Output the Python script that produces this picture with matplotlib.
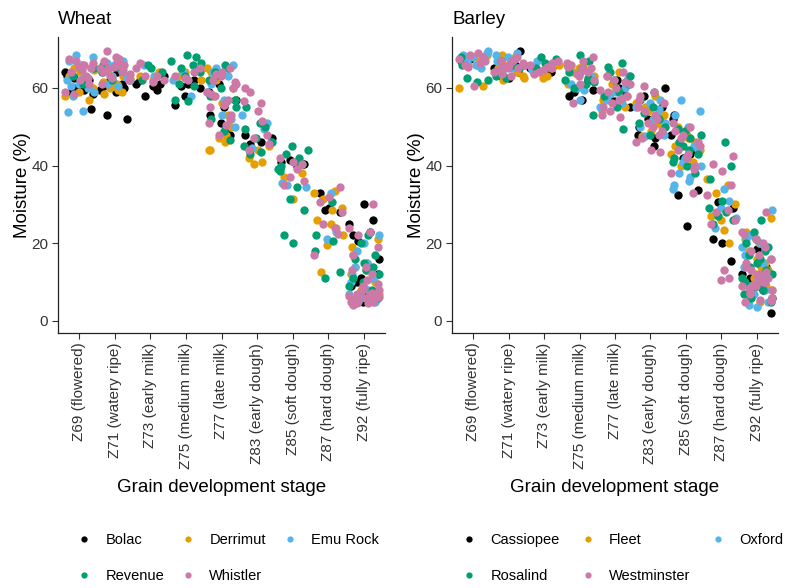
import numpy as np
import matplotlib
matplotlib.use("Agg")
import matplotlib.pyplot as plt
from matplotlib.lines import Line2D

plt.rcParams['font.family'] = ['Liberation Sans', 'DejaVu Sans']

# Data (moisture %, one sublist per stage)
stages = ["Z69 (flowered)", "Z71 (watery ripe)", "Z73 (early milk)", "Z75 (medium milk)",
          "Z77 (late milk)", "Z83 (early dough)", "Z85 (soft dough)", "Z87 (hard dough)",
          "Z92 (fully ripe)"]

wheat_names = ["Bolac", "Derrimut", "Emu Rock", "Revenue", "Whistler"]
barley_names = ["Cassiopee", "Fleet", "Oxford", "Rosalind", "Westminster"]
colours = ["#000000", "#E69F00", "#56B4E9", "#009E73", "#CC79A7"]

wheat_bolac = [[63, 59.5, 60, 54.5, 59, 61, 62, 64, 60.5, 62.5, 58.5],
               [52, 53, 59, 60, 59.5, 61, 62, 63, 60.5, 64],
               [61, 61, 59.5, 58, 63, 62, 60.5], [60.5, 60, 55.5, 61, 62, 58],
               [55, 48, 51, 57, 62, 49, 53, 59, 56.5, 61], [47, 45.5, 46, 48],
               [41, 39.5, 40, 41.5, 40.5], [28.5, 28, 33, 29],
               [30, 26, 25, 23, 20.5, 12, 22, 8, 6, 5, 16, 10, 7, 5.5, 9, 6.5, 11]]
wheat_derrimut = [[64, 57, 58, 62, 65, 60, 63, 66, 61, 59, 64.5],
                  [59, 60, 62, 58.5, 61, 63, 60.5, 62.5, 64, 59.5, 61.5],
                  [63, 62, 64], [64, 62, 63],
                  [46, 44, 44, 48, 47, 60, 58, 56, 50, 65, 53, 62, 57, 64, 55.5],
                  [41, 40.5, 45, 42, 44], [37, 31.5, 38],
                  [33, 33.5, 31.5, 29, 26, 25, 24, 19.5, 22, 12.5, 28.5],
                  [21, 17, 13, 11, 9, 7, 5, 15, 19, 12, 6, 8, 10, 14]]
wheat_emurock = [[68, 67, 66, 60, 61, 59, 58, 54, 53.7, 62, 63, 68.5, 65, 60.5],
                 [67, 66, 62, 61, 60.5, 65, 64, 67.5, 63, 62.5, 66.5],
                 [66, 63], [62, 58, 64], [66, 64, 53, 52, 59, 63, 65, 50, 61, 57],
                 [51, 53, 49.5, 44.5, 46], [35, 34.5, 35.5], [33, 23, 21],
                 [22, 18, 15, 12, 10, 8, 6, 5, 14, 20, 11, 7, 13]]
wheat_revenue = [[65, 63, 61], [66, 64, 65, 62], [66, 64, 62, 65],
                 [68.5, 68, 67, 66, 65, 64, 57, 56.5, 60.5, 63, 66.5, 61],
                 [65, 63, 57, 52, 49, 46.5, 60, 55, 64, 66, 58, 62],
                 [55, 51, 50, 47, 46, 43, 43.5, 49.5, 45],
                 [45, 44, 43, 41, 40, 38.5, 34.5, 31.5, 28.5, 22, 20, 40.5, 39, 42],
                 [30.5, 22, 18, 20.5, 11, 12.5],
                 [22, 20, 17, 16, 15, 14, 9, 7, 5, 6, 11, 13, 8, 10, 12, 5.5]]
wheat_whistler = [[66, 67, 65, 64, 62, 61, 59, 63, 58.5, 66.5, 67.5, 64.5, 62.5, 65.5],
                  [69.5, 68, 66, 65, 64, 63, 62, 67, 66.5, 64.5, 65.5, 63.5, 65, 66, 64, 61,
                   67.5, 62.5],
                  [65, 63, 63, 62, 66.5, 61.5], [65, 63, 62, 64, 62.5],
                  [65, 63, 61, 58, 56, 55, 51, 50.5, 48, 60, 62, 64, 53, 59, 57, 63.5, 61.5,
                   58.5, 55.5, 52],
                  [59, 56, 60, 56.5, 51.5, 47, 45.5, 44, 54, 48],
                  [42, 39, 37, 36, 35, 41, 40.5],
                  [34.5, 30.5, 32, 22.5, 17, 24, 25, 28],
                  [30, 24, 23, 22, 19, 17, 14, 12, 9, 8, 7, 6, 5, 5, 4.5, 7.5, 6, 5.5, 8.5,
                   4.8, 6.5, 7, 5.2, 9.5, 4.2, 5.8, 7.2, 8.2, 6.2, 4.6, 10.5, 13]]

barley_cassiopee = [[67, 66, 67.5, 68], [69.5, 63, 62.5, 64, 65, 66], [66, 65, 64],
                    [59, 59.5, 58, 57, 62, 64], [62, 59, 56.5, 55, 58, 60],
                    [60, 58, 45, 50, 48, 47, 52, 55],
                    [53, 52, 43, 42, 33.8, 32.5, 24.5, 44, 48], [30.5, 29, 21, 20, 15.5],
                    [18.5, 14, 12, 8, 7.5, 2, 17, 10, 13, 9, 6, 11, 15]]
barley_fleet = [[68, 60.5, 60, 67, 66, 68.5], [68, 62, 63, 65, 67, 64, 66, 62.5, 68.5],
                [64, 63, 65, 62.5, 66, 64.5], [65, 63, 64, 66, 61],
                [64, 57, 54, 56, 61, 58, 63, 59.5, 55],
                [58, 54, 50, 47.5, 49, 52, 56, 51, 55, 53],
                [50, 48, 46, 43, 41, 40, 44, 45, 47], [36.5, 35, 33, 30, 27, 23.5, 20, 26],
                [26.5, 23, 20, 15, 12, 8, 6, 5, 21, 10, 14, 11, 13, 18, 16, 9]]
barley_oxford = [[69, 68.5, 66, 65, 68, 69.5, 67], [69, 68, 66, 64, 65, 67, 68.5],
                 [67, 66, 64.5, 65.5], [66, 59.5, 60, 63, 61, 57],
                 [62, 57, 59, 60, 55, 56, 58.5, 63],
                 [57, 55, 53, 47.5, 48, 50, 52, 54.5, 56, 51],
                 [57, 54, 53, 50, 45, 42, 40, 38, 36, 35, 34, 37, 41, 44],
                 [34, 31, 29, 26.5, 24],
                 [28.5, 22, 20, 17, 14, 10, 7, 5, 4, 3.5, 12, 19, 15, 9, 16, 21, 11, 8]]
barley_rosalind = [[62, 62.5, 61.5, 66, 68], [64, 63, 66, 62.5, 65.5, 67], [68, 67.5, 65, 66.5],
                   [68.5, 67, 62, 61, 60, 53, 64, 65, 62.5, 63.5, 61.5],
                   [66.5, 64, 61, 58, 55, 49.5, 62, 63, 65.5, 59],
                   [57, 55, 52, 48, 50, 53.5, 59, 51],
                   [49, 48, 46, 44, 42, 41, 47, 45, 43, 49.5, 40, 38],
                   [46, 36.5, 29, 28, 27, 26, 25, 31, 40],
                   [26, 23, 19, 17, 15, 13, 11, 8, 6, 5, 20, 9, 18, 21, 12, 14, 16, 10, 7]]
barley_westminster = [[69, 68.5, 67, 66, 60.5, 68, 67.5, 66.5, 65.5],
                      [67, 66, 65, 64, 67.5, 65.5, 66.5, 64.5, 63, 68, 65, 66, 63.5, 67],
                      [66, 65, 64, 67, 63.5, 65.5, 66.5, 64.5],
                      [68, 66, 65, 64, 63, 62, 56, 67, 65.5, 66.5, 64.5, 63.5, 65, 66, 61],
                      [64, 62, 61, 59, 57, 55, 53, 52.5, 56, 58, 63, 60, 61.5, 59.5, 57.5, 54],
                      [60.5, 59, 57, 55, 53, 51, 49, 47, 44, 43.5, 46, 52, 54, 56, 58, 50, 48],
                      [51, 50, 48, 46, 44, 42, 40, 38, 33, 47, 45, 49, 43, 39],
                      [42.5, 40.5, 38.5, 35, 32.5, 28.5, 28, 26, 25, 13, 11, 10.5],
                      [28, 23, 20, 18, 16, 14, 12, 10, 9, 8, 7, 5.5, 5, 22.5, 10.5, 9.5, 11,
                       8.5, 11.5, 12.5, 9, 10, 13, 5.2, 15, 17, 19, 21, 6, 7.5]]

wheat_series = [wheat_bolac, wheat_derrimut, wheat_emurock, wheat_revenue, wheat_whistler]
barley_series = [barley_cassiopee, barley_fleet, barley_oxford, barley_rosalind, barley_westminster]

# fixed horizontal spread pattern (stands in for jitter)
spread = [-0.36, 0.13, -0.08, 0.33, -0.23, 0.02, 0.27, -0.41, 0.19,
          -0.15, 0.39, -0.30, 0.07, 0.23, -0.02, 0.42, -0.19, 0.10, -0.33]


def draw_panel(ax, title, names, series):
    for v, (vals, col) in enumerate(zip(series, colours)):
        for s, ys in enumerate(vals):
            xs = [s + 1 + spread[(i + v * 5 + s * 3) % len(spread)] for i in range(len(ys))]
            ax.scatter(xs, ys, s=36, color=col, linewidths=0, zorder=3)
    ax.set_xlim(0.4, 9.6)
    ax.set_ylim(-3.1, 73.1)
    ax.set_yticks([0, 20, 40, 60])
    ax.set_xticks(range(1, 10))
    ax.set_xticklabels(stages, rotation=90, fontsize=11, color="#333333")
    ax.tick_params(axis="y", labelsize=11, labelcolor="#333333")
    ax.tick_params(length=4, width=0.8, color="#333333", pad=3)
    for side in ["top", "right"]:
        ax.spines[side].set_visible(False)
    for side in ["left", "bottom"]:
        ax.spines[side].set_linewidth(0.9)
        ax.spines[side].set_color("#222222")
    ax.set_title(title, loc="left", fontsize=13.5, pad=9)
    ax.set_ylabel("Moisture (%)", fontsize=13.5, labelpad=0.5)
    ax.set_xlabel("Grain development stage", fontsize=13.5, labelpad=7)

    # legend filled row by row (matplotlib fills columns, so reorder)
    order = [0, 3, 1, 4, 2]
    handles = [Line2D([], [], marker="o", linestyle="none", markersize=4.5,
                      markerfacecolor=colours[k], markeredgewidth=0) for k in order]
    labels = [names[k] for k in order]
    return handles, labels


fig = plt.figure(figsize=(7.85, 5.88), dpi=100)
ax1 = fig.add_axes([58 / 785, 1 - 333 / 588, 327 / 785, 296 / 588])
ax2 = fig.add_axes([452 / 785, 1 - 333 / 588, 326 / 785, 296 / 588])

h1, l1 = draw_panel(ax1, "Wheat", wheat_names, wheat_series)
h2, l2 = draw_panel(ax2, "Barley", barley_names, barley_series)

for ax, h, l, x0, cs in [(ax1, h1, l1, 77, 1.15), (ax2, h2, l2, 462, 1.42)]:
    ax.legend(h, l, ncol=3, loc="upper left", bbox_to_anchor=(x0 / 785, 1 - 533 / 588),
              bbox_transform=fig.transFigure, frameon=False, fontsize=10.5,
              handlelength=1.0, handletextpad=0.95, columnspacing=cs,
              labelspacing=1.5, borderpad=0, borderaxespad=0)

fig.savefig("out.png", dpi=100)
